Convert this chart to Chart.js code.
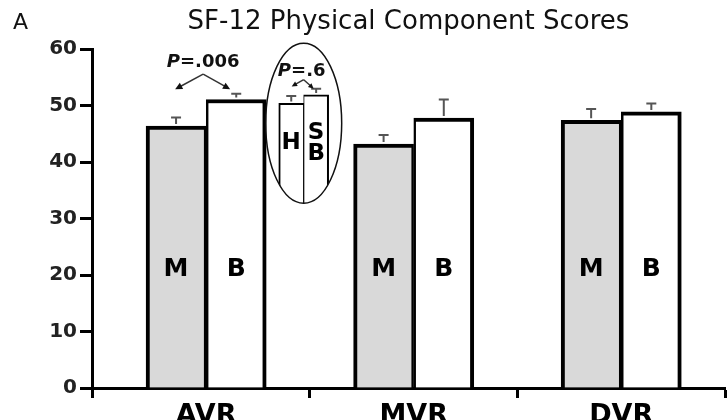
<!DOCTYPE html>
<html>
<head>
<meta charset="utf-8">
<title>SF-12 Physical Component Scores</title>
<script src="https://cdn.jsdelivr.net/npm/chart.js@4.4.1/dist/chart.umd.min.js"></script>
<style>
  html, body { margin: 0; padding: 0; background: #fff; }
  #wrap { width: 727px; height: 420px; }
</style>
</head>
<body>
<div id="wrap"><canvas id="pcs"></canvas></div>
<script>
// groups on the x axis
const categories = ["AVR", "MVR", "DVR"];
// mechanical (M) and bioprosthetic (B) means, with the upper error bar
const mechScores = [46.4, 43.2, 47.4];
const mechErrors = [1.5, 1.6, 2.0];
const bioScores = [51.1, 47.8, 48.9];
const bioErrors = [1.0, 3.3, 1.5];
// AVR subgroup shown in the ellipse: homograft (H) and stentless (SB)
const homoScore = [50.4];
const homoError = [1.3];
const stentScore = [51.9];
const stentError = [1.1];
const yTicks = [0, 10, 20, 30, 40, 50, 60];
const pTexts = ["=.006", "=.6"];

const FONT = "DejaVu Sans";
const xMin = -0.55;
const xMax = categories.length - 0.5;
// placement of the bars around each category (in category units)
const pairShift = 0.145;
const subCenter = 0.47;
const subShift = 0.06;

function drawArrow(ctx, x0, y0, x1, y1, head) {
  const a = Math.atan2(y1 - y0, x1 - x0);
  ctx.beginPath();
  ctx.moveTo(x0, y0);
  ctx.lineTo(x1 - Math.cos(a) * head * 0.6, y1 - Math.sin(a) * head * 0.6);
  ctx.stroke();
  ctx.beginPath();
  ctx.moveTo(x1, y1);
  ctx.lineTo(x1 - head * Math.cos(a - 0.45), y1 - head * Math.sin(a - 0.45));
  ctx.lineTo(x1 - head * Math.cos(a + 0.45), y1 - head * Math.sin(a + 0.45));
  ctx.closePath();
  ctx.fill();
}

// italic P followed by the rest of the text, centred on cx
function drawP(ctx, rest, cx, cy, size) {
  ctx.font = "italic bold " + size + "px " + FONT;
  const wP = ctx.measureText("P").width;
  ctx.font = "bold " + size + "px " + FONT;
  const wR = ctx.measureText(rest).width;
  const x = cx - (wP + wR) / 2;
  ctx.textAlign = "left";
  ctx.textBaseline = "middle";
  ctx.font = "italic bold " + size + "px " + FONT;
  ctx.fillText("P", x, cy);
  ctx.font = "bold " + size + "px " + FONT;
  ctx.fillText(rest, x + wP, cy);
}

function ellipseOf(chart) {
  const h = chart.getDatasetMeta(2).data[0];
  const s = chart.getDatasetMeta(3).data[0];
  return {
    cx: (h.x + s.x) / 2,
    cy: chart.scales.y.getPixelForValue(46.9),
    rx: 38,
    ry: 80
  };
}

const annotate = {
  id: "annotate",
  beforeDatasetDraw(chart, args) {
    if (args.index < 2) return;
    const e = ellipseOf(chart);
    const ctx = chart.ctx;
    ctx.save();
    ctx.beginPath();
    ctx.ellipse(e.cx, e.cy, e.rx, e.ry, 0, 0, Math.PI * 2);
    ctx.clip();
  },
  afterDatasetDraw(chart, args) {
    if (args.index < 2) return;
    chart.ctx.restore();
  },
  afterDatasetsDraw(chart) {
    const ctx = chart.ctx;
    const y = chart.scales.y;
    ctx.save();

    chart.data.datasets.forEach((ds, di) => {
      const meta = chart.getDatasetMeta(di);
      meta.data.forEach((bar, i) => {
        // error bar, upper side only
        const top = y.getPixelForValue(ds.data[i].y + ds.errors[i]);
        ctx.strokeStyle = "#555";
        ctx.lineWidth = 2;
        ctx.beginPath();
        ctx.moveTo(bar.x, bar.y - 2);
        ctx.lineTo(bar.x, top);
        ctx.moveTo(bar.x - 5, top);
        ctx.lineTo(bar.x + 5, top);
        ctx.stroke();

        // letters inside the bars
        ctx.fillStyle = "#000";
        ctx.textAlign = "center";
        ctx.textBaseline = "middle";
        ctx.font = "bold " + ds.tagSize + "px " + FONT;
        const mid = y.getPixelForValue(ds.tagAt);
        const n = ds.tag.length;
        ds.tag.forEach((t, k) => {
          ctx.fillText(t, bar.x, mid + (k - (n - 1) / 2) * 21);
        });
      });
    });

    // ellipse round the subgroup
    const e = ellipseOf(chart);
    ctx.strokeStyle = "#111";
    ctx.lineWidth = 1.5;
    ctx.beginPath();
    ctx.ellipse(e.cx, e.cy, e.rx, e.ry, 0, 0, Math.PI * 2);
    ctx.stroke();

    // P values with arrows
    ctx.fillStyle = "#111";
    ctx.strokeStyle = "#333";
    ctx.lineWidth = 1.5;
    const m0 = chart.getDatasetMeta(0).data[0];
    const b0 = chart.getDatasetMeta(1).data[0];
    const c1 = (m0.x + b0.x) / 2 - 3;
    drawP(ctx, pTexts[0], c1, y.getPixelForValue(57.6), 18);
    const apex1 = y.getPixelForValue(55.6);
    const tip1 = y.getPixelForValue(52.9);
    drawArrow(ctx, c1, apex1, c1 - 28, tip1, 8);
    drawArrow(ctx, c1, apex1, c1 + 27, tip1, 8);

    const c2 = e.cx - 2;
    drawP(ctx, pTexts[1], c2, y.getPixelForValue(56.1), 18);
    const apex2 = y.getPixelForValue(54.6);
    drawArrow(ctx, c2 + 2, apex2, c2 - 10, y.getPixelForValue(53.4), 6);
    drawArrow(ctx, c2 + 2, apex2, c2 + 12, y.getPixelForValue(53.0), 6);

    ctx.restore();
  },
  afterDraw(chart) {
    const ctx = chart.ctx;
    ctx.save();
    ctx.fillStyle = "#111";
    ctx.font = "22px " + FONT;
    ctx.textAlign = "left";
    ctx.textBaseline = "middle";
    ctx.fillText("A", 13, 23);
    ctx.restore();
  }
};

const barsAt = (vals, shift) => vals.map((v, i) => ({ x: i + shift, y: v }));

new Chart(document.getElementById("pcs"), {
  type: "bar",
  data: {
    datasets: [
      {
        label: "M",
        data: barsAt(mechScores, -pairShift),
        errors: mechErrors,
        tag: ["M"], tagAt: 21, tagSize: 25,
        backgroundColor: "#d9d9d9",
        borderColor: "#000",
        borderWidth: { top: 4, left: 4, right: 2.5, bottom: 0 },
        barThickness: 60
      },
      {
        label: "B",
        data: barsAt(bioScores, pairShift),
        errors: bioErrors,
        tag: ["B"], tagAt: 21, tagSize: 25,
        backgroundColor: "#fff",
        borderColor: "#000",
        borderWidth: { top: 4, left: 2.5, right: 4, bottom: 0 },
        barThickness: 60
      },
      {
        label: "H",
        data: barsAt(homoScore, subCenter - subShift),
        errors: homoError,
        tag: ["H"], tagAt: 43.3, tagSize: 23,
        backgroundColor: "#fff",
        borderColor: "#000",
        borderWidth: { top: 2, left: 2, right: 1, bottom: 0 },
        barThickness: 25
      },
      {
        label: "SB",
        data: barsAt(stentScore, subCenter + subShift),
        errors: stentError,
        tag: ["S", "B"], tagAt: 43.3, tagSize: 23,
        backgroundColor: "#fff",
        borderColor: "#000",
        borderWidth: { top: 2, left: 1, right: 2, bottom: 0 },
        barThickness: 25
      }
    ]
  },
  options: {
    responsive: true,
    maintainAspectRatio: false,
    animation: false,
    events: [],
    layout: { padding: 0 },
    datasets: {
      bar: { grouped: false }
    },
    plugins: {
      legend: { display: false },
      tooltip: { enabled: false },
      title: {
        display: true,
        text: "SF-12 Physical Component Scores",
        fullSize: false,
        color: "#111",
        font: { family: FONT, size: 26, weight: "normal" },
        padding: { top: 7, bottom: 11 }
      }
    },
    scales: {
      x: {
        type: "linear",
        min: xMin,
        max: xMax,
        offset: false,
        afterBuildTicks: (s) => {
          s.ticks = [xMin].concat(categories.flatMap((c, i) => [i, i + 0.5]))
            .map((v) => ({ value: v }));
        },
        afterFit: (s) => { s.height = 32; },
        grid: {
          offset: false,
          drawOnChartArea: false,
          tickLength: 10,
          tickWidth: 3,
          tickColor: (c) => (c.tick && Number.isInteger(c.tick.value) ? "rgba(0,0,0,0)" : "#000")
        },
        border: { color: "#000", width: 3 },
        ticks: {
          autoSkip: false,
          maxRotation: 0,
          padding: 2,
          color: "#000",
          font: { family: FONT, size: 27, weight: "bold" },
          callback: (v) => (Number.isInteger(v) ? categories[v] : "")
        }
      },
      y: {
        min: 0,
        max: 60,
        afterBuildTicks: (s) => { s.ticks = yTicks.map((v) => ({ value: v })); },
        afterFit: (s) => { s.width = 92; },
        grid: { drawOnChartArea: false, tickLength: 12, tickWidth: 3, tickColor: "#000" },
        border: { color: "#000", width: 3 },
        ticks: {
          padding: 3,
          color: "#222",
          font: { family: FONT, size: 20, weight: "bold" }
        }
      }
    }
  },
  plugins: [annotate]
});
</script>
</body>
</html>
